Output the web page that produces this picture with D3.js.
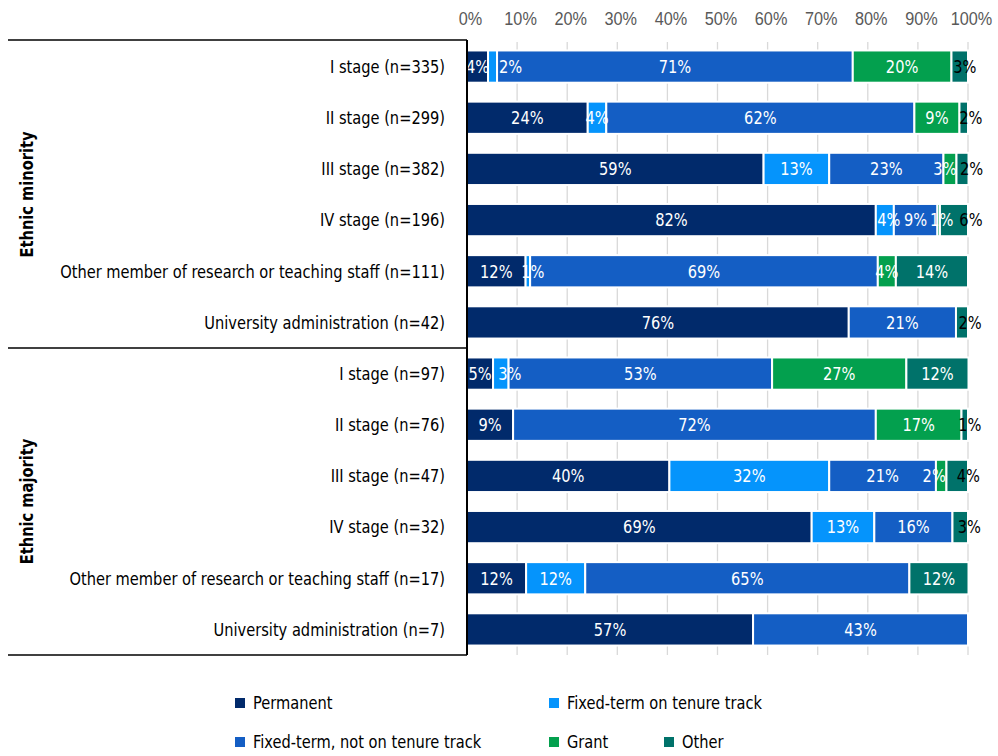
<!DOCTYPE html>
<html>
<head>
<meta charset="utf-8">
<script src="https://cdn.jsdelivr.net/npm/d3@7"></script>
<style>
  body { margin: 0; background: #fff; }
  svg { font-family: "Liberation Sans Narrow", "DejaVu Sans Condensed", "Roboto Condensed", sans-serif; }
</style>
</head>
<body>
<svg id="chart" width="998" height="756"></svg>
<script>
// Employment type by career stage, ethnic minority vs. majority (percent of respondents)
const groups = ["Ethnic minority", "Ethnic majority"];
const categories = [
  "I stage (n=335)",
  "II stage (n=299)",
  "III stage (n=382)",
  "IV stage (n=196)",
  "Other member of research or teaching staff (n=111)",
  "University administration (n=42)",
  "I stage (n=97)",
  "II stage (n=76)",
  "III stage  (n=47)",
  "IV stage (n=32)",
  "Other member of research or teaching staff (n=17)",
  "University administration (n=7)"
];
const categoryGroup = [0,0,0,0,0,0,1,1,1,1,1,1];
const seriesNames = ["Permanent", "Fixed-term on tenure track", "Fixed-term, not on tenure track", "Grant", "Other"];
const seriesColors = ["#012a6b", "#0594fc", "#145ec4", "#03a04e", "#00726a"];

const permanent   = [4.2, 24.1, 59.2, 81.6, 11.7, 76.2,  5.2,  9.2, 40.4, 68.8, 11.8, 57.1];
const tenureTrack = [1.8,  3.7, 13.1,  3.6,  0.9,  0.0,  3.1,  0.0, 31.9, 12.5, 11.8,  0.0];
const notTenure   = [71.0, 61.5, 22.8, 8.7, 69.4, 21.4, 52.6, 72.4, 21.3, 15.6, 64.7, 42.9];
const grant       = [19.7,  9.0,  2.6,  0.5,  3.6,  0.0, 26.8, 17.1,  2.1,  0.0,  0.0,  0.0];
const other       = [3.3,  1.7,  2.4,  5.6, 14.4,  2.4, 12.4,  1.3,  4.3,  3.1, 11.8,  0.0];
const seriesValues = [permanent, tenureTrack, notTenure, grant, other];
const xTicks = [0, 10, 20, 30, 40, 50, 60, 70, 80, 90, 100];

// sideways shifts (px) for labels of thin segments so neighbours stay readable; key "row:series"
const labelNudge = {
  "0:1": 18, "0:4": 5, "1:4": 7, "2:3": -5, "2:4": 9,
  "3:1": 4, "3:3": 3, "3:4": 17, "4:1": 5, "5:4": 8,
  "6:1": 9, "7:4": 5, "8:3": -7, "8:4": 11, "9:4": 9
};

const svg = d3.select("#chart");
const NARROW = 0.93;   // horizontal squeeze to get a condensed look

// places a text at (tx, ty) and narrows it horizontally
function put(sel, tx, ty, extra = "") {
  return sel.attr("transform", `translate(${tx},${ty}) ${extra} scale(${NARROW},1)`);
}

const x = d3.scaleLinear().domain([0, 100]).range([467, 968]);
const y = d3.scaleBand().domain(d3.range(categories.length)).range([41, 655])
  .paddingInner(0.37).paddingOuter(0.185);

// vertical gridlines
svg.append("g").selectAll("line").data(xTicks.slice(1)).join("line")
  .attr("x1", d => x(d)).attr("x2", d => x(d))
  .attr("y1", 42).attr("y2", 655)
  .attr("stroke", "#d9d9d9").attr("stroke-width", 1.3);

// top axis labels
const xAxis = d3.axisTop(x).tickValues(xTicks).tickFormat(d => d + "%").tickSize(0).tickPadding(0);
const gx = svg.append("g").attr("transform", "translate(3,25)").call(xAxis);
gx.select(".domain").remove();
gx.selectAll("text").attr("font-size", 17.5).attr("fill", "#595959")
  .attr("font-family", "inherit").attr("dy", 0)
  .attr("transform", `scale(${NARROW},1)`)
  .attr("x", 0);

// stacked rows
const stackData = categories.map((c, i) => {
  const row = { idx: i };
  seriesNames.forEach((s, k) => row[s] = seriesValues[k][i]);
  return row;
});
const stacked = d3.stack().keys(seriesNames)(stackData);

const layers = svg.append("g").selectAll("g").data(stacked).join("g")
  .attr("fill", (d, k) => seriesColors[k]);

layers.selectAll("rect").data(d => d.filter(p => p[1] - p[0] > 0)).join("rect")
  .attr("x", p => x(p[0]))
  .attr("width", p => x(p[1]) - x(p[0]))
  .attr("y", p => y(p.data.idx))
  .attr("height", y.bandwidth())
  .attr("stroke", "#fff").attr("stroke-width", 2);

// value labels
const labels = svg.append("g").attr("font-size", 17.5).attr("text-anchor", "middle");
stacked.forEach((layer, k) => {
  layer.forEach(p => {
    const v = p[1] - p[0];
    if (v <= 0) return;
    const shift = labelNudge[p.data.idx + ":" + k] || 0;
    put(labels.append("text"), x((p[0] + p[1]) / 2) + shift, y(p.data.idx) + y.bandwidth() / 2)
      .attr("dy", "0.36em")
      .attr("fill", (k === 4 && v < 10) ? "#000" : "#fff")
      .text(Math.round(v) + "%");
  });
});

// category labels
const cat = svg.append("g").attr("font-size", 17.5).attr("text-anchor", "end");
categories.forEach((c, i) => {
  put(cat.append("text"), 445, y(i) + y.bandwidth() / 2)
    .attr("dy", "0.36em").attr("fill", "#000").text(c);
});

// table frame on the left
const frame = svg.append("g").attr("stroke", "#000");
[40, 348, 655].forEach(yy => {
  frame.append("line").attr("x1", 8).attr("x2", 467).attr("y1", yy).attr("y2", yy)
    .attr("stroke-width", 1.3);
});
frame.append("line").attr("x1", 467).attr("x2", 467).attr("y1", 40).attr("y2", 655)
  .attr("stroke-width", 2);

// group labels
groups.forEach((g, gi) => {
  const idxs = d3.range(categories.length).filter(i => categoryGroup[i] === gi);
  const top = y(idxs[0]) - y.step() * y.paddingInner() / 2;
  const bottom = y(idxs[idxs.length - 1]) + y.bandwidth() + y.step() * y.paddingInner() / 2;
  const cy = (top + bottom) / 2;
  put(svg.append("text"), 33, cy, "rotate(-90)")
    .attr("text-anchor", "middle")
    .attr("font-size", 17.5).attr("font-weight", "bold")
    .text(g);
});

// legend
const legendPos = [[240, 703], [554, 703], [240, 742], [554, 742], [669, 742]];
const legend = svg.append("g").attr("font-size", 17.5);
seriesNames.forEach((s, k) => {
  const [lx, ly] = legendPos[k];
  legend.append("rect").attr("x", lx - 5).attr("y", ly - 5).attr("width", 10).attr("height", 10)
    .attr("fill", seriesColors[k]);
  put(legend.append("text"), lx + 13, ly)
    .attr("dy", "0.36em").attr("fill", "#000").text(s);
});
</script>
</body>
</html>
